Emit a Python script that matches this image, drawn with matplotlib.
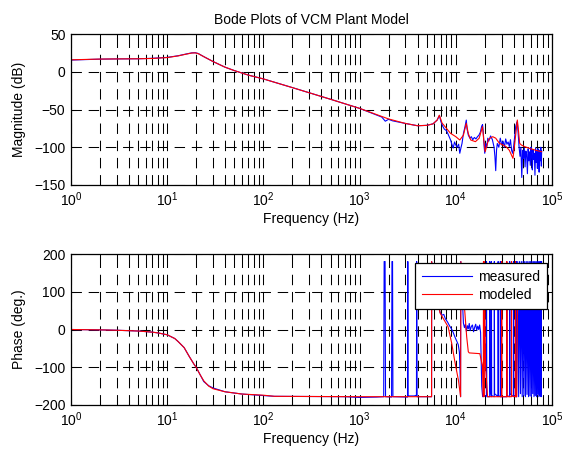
import matplotlib
matplotlib.use("Agg")
import matplotlib.pyplot as plt
from matplotlib.ticker import LogLocator, NullFormatter, FixedLocator

plt.rcParams['font.family'] = ['Liberation Sans', 'DejaVu Sans']
plt.rcParams['font.size'] = 10

title = "Bode Plots of VCM Plant Model"
xlabel = "Frequency (Hz)"
ylabel_mag = "Magnitude (dB)"
ylabel_phase = "Phase (deg.)"
legend_labels = ["measured", "modeled"]
mag_yticks = [50, 0, -50, -100, -150]
phase_yticks = [200, 100, 0, -100, -200]

# ---- modeled magnitude (red) ----
freq_mod_mag = [1, 2, 3, 5, 7, 10, 13, 16, 18, 19.6, 21, 24, 30, 40, 50, 70, 100, 200, 500,
                1000, 2000, 3000, 4000, 5000, 5800, 6400, 6750, 7200, 8000, 8800, 10000,
                11000, 12000, 12850, 13500, 14300, 16000, 17500, 18960, 19500, 20200,
                22000, 24200, 26000, 28400, 31000, 33300, 36000, 39300, 41000, 43600,
                45000, 46100, 48000, 52000, 60000, 70000, 78000]
mag_mod = [15.8, 16.8, 17.0, 17.2, 17.6, 18.8, 21.0, 23.5, 24.8, 25.0, 24.0, 20.0, 13.5,
           6.0, 1.5, -4.5, -9.5, -21.0, -36.5, -48.5, -62.5, -68.5, -71.5, -71.0, -69.0,
           -64.0, -57.5, -68.0, -75.0, -81.5, -86.0, -90.4, -84.0, -68.3, -82.0, -90.4,
           -92.6, -88.0, -72.7, -90.0, -105.8, -89.0, -86.0, -88.0, -94.8, -97.0, -99.2,
           -104.0, -114.7, -95.0, -63.9, -80.0, -94.8, -97.0, -99.2, -102.0, -104.5, -105.9]

# ---- measured magnitude (blue) ----
freq_meas_mag = [1, 2, 3, 5, 7, 10, 13, 16, 18, 19.6, 21, 24, 30, 40, 50, 70, 100, 200, 500,
                 1000, 1700, 1850, 2000, 2200, 3000, 4000, 5000, 5800, 6400, 6750, 7000,
                 7300, 7600, 8000, 8400, 8800, 9100, 9400, 9700, 10000, 10300, 10700, 11000,
                 11300, 11600, 12000, 12500, 12850, 13100, 13500, 14000, 14500, 15000,
                 15600, 16200, 16800, 17400, 18000, 18600, 18960, 19300, 19700, 20000,
                 20500, 21000, 21500, 22000, 23000, 24000, 25000, 25500, 26000, 26500,
                 27000, 28000, 29000, 30000, 31000, 32000, 33000, 34000, 35000, 36000,
                 37000, 38000, 39000, 40000, 41000, 42000, 43000, 43600, 44500, 45500,
                 46500, 47500, 48500, 49500, 50500, 51500, 52500, 53500, 54500, 55500,
                 56500, 57500, 58500, 59500, 60500, 61500, 62500, 63500, 64500, 65500,
                 66500, 67500, 68500, 69500, 70500, 71500, 72500, 73500, 74500, 75500,
                 76500, 77500, 78000]
mag_meas = [15.5, 16.7, 17.0, 17.2, 17.8, 19.0, 21.2, 23.7, 25.0, 25.2, 24.2, 20.0, 13.5,
            6.0, 1.5, -4.5, -9.5, -21.0, -36.5, -48.5, -60.0, -65.5, -63.0, -65.0, -68.5,
            -71.5, -71.0, -69.0, -64.0, -58.0, -66.0, -72.0, -76.0, -78.0, -84.0, -90.0,
            -96.0, -101.0, -93.0, -97.0, -100.0, -96.0, -108.0, -101.0, -95.0, -82.0, -72.0,
            -64.0, -76.0, -84.0, -88.0, -86.0, -90.0, -87.0, -89.0, -86.0, -84.0, -80.0,
            -72.0, -70.0, -80.0, -99.0, -108.0, -95.0, -100.0, -88.0, -92.0, -85.0, -90.0,
            -100.0, -112.0, -131.0, -104.0, -95.0, -100.0, -88.0, -97.0, -92.0, -100.0,
            -89.0, -96.0, -93.0, -99.0, -90.0, -104.0, -108.0, -98.0, -85.0, -72.0, -68.0,
            -66.0, -82.0, -100.0, -112.0, -100.0, -140.0, -104.0, -115.0, -101.0, -126.0,
            -105.0, -110.0, -135.0, -102.0, -118.0, -106.0, -124.0, -100.0, -113.0, -130.0,
            -103.0, -116.0, -108.0, -137.0, -101.0, -120.0, -106.0, -128.0, -102.0, -115.0,
            -133.0, -104.0, -118.0, -100.0, -125.0, -105.0]

# ---- modeled phase (red) ----
freq_mod_ph = [1, 2, 3, 5, 7, 8, 10, 12, 13, 15, 17, 19, 20, 22, 24, 27, 30, 40, 60, 100,
               130, 1000, 5600, 5610, 6200, 6855, 8318, 9057, 9772, 10640,
               11220, 11300, 12300, 12970, 13490, 13800, 17780, 19050, 19320, 19400,
               19600, 19800, 20400, 21400, 29900, 30000, 30100, 33800, 33900, 34000,
               37900, 38000, 38100, 41600, 41700, 41800, 43000, 44000, 60000, 78000]
phase_mod = [0, -1, -2, -4, -7, -9, -14, -24, -32, -48, -72, -92, -100, -120, -136, -150,
             -157, -165, -171, -174,
             -177, -178, -178, 180, 110, 44, 7, -36, -85, -134,
             -178, 180, 60, -19, -59, -62, -64, -100, -178, 180,
             -178, 180, -100, -178, -178, 180, -178, -178, 180, -178,
             -178, 180, -176, -178, 180, -178, -178, 150, 150, 150]

# ---- measured phase (blue) ----
freq_meas_ph = [1, 2, 3, 5, 7, 8, 10, 12, 13, 15, 17, 19, 20, 22, 24, 27, 30, 40, 60, 100,
                130, 700, 1000, 1500, 1780, 1800, 1840, 1860, 2150, 2170, 2200, 2220, 3150,
                3170, 3190, 3700, 3900, 3920, 3960, 5600, 5610,
                6700, 6900, 7200, 7500, 7800, 8200, 8600, 9000, 9400, 9800, 10200, 10600,
                10900, 11100, 11200, 11250, 11800, 12000, 12300, 12600, 12900, 13200,
                13500, 13800, 14100, 14500, 14900, 15300, 15700, 16100, 16500, 16900,
                17300, 17700, 18100, 18600, 19000, 20800, 20850, 21000, 22500, 22550,
                22700, 23400, 23450, 23600, 25100, 25150, 25300, 27500, 27550, 27700,
                29000, 29050, 29200, 33800, 33850, 34000, 36300, 36350, 36500, 39800,
                39850, 40000, 42600, 42650, 42800, 44000,
                45000, 46000, 47000, 48000, 49000, 50000, 51000, 52000, 53000, 54000,
                55000, 56000, 57000, 58000, 59000, 60000, 61000, 62000, 63000, 64000,
                65000, 66000, 67000, 68000, 69000, 70000, 71000, 72000, 73000, 74000,
                75000, 76000, 77000, 78000]
phase_meas = [0, -1, -2, -4, -7, -9, -14, -24, -32, -48, -72, -92, -100, -120, -138, -149,
              -155, -165, -171, -175,
              -177, -178, -180, -179, -178, 180, 180, -178, -179, 180, 180, -178, -179,
              180, -176, -176, -174, 180, -178, -178, 180,
              55, 44, 38, 40, 28, 20, 10, 2, -8, -20, -30, -40,
              -60, -120, -178, 180, 60, 17, 5, 14, -5, 10,
              2, 16, -3, 8, 12, -6, 6, 14, -2, 9,
              0, 12, -8, -150, -178, -175, 180, -178, -178, 180,
              -160, -178, 180, -175, -178, 180, -170, -178, 180, -175,
              -178, 180, -178, -178, 180, -175, -178, 180, -170, -178,
              180, -175, -178, 180, -178, 180,
              -178, 180, -170, 180, -178, 180, -175, 180, -178, 180,
              -172, 180, -178, 180, -176, 180, -178, 180, -170, 180,
              -178, 180, -175, 180, -178, 180, -172, 180, -178, 180,
              -176, 180, -178, 180]

fig = plt.figure(figsize=(5.66, 4.5), dpi=100)
W, H = 566.0, 450.0
ax1 = fig.add_axes([71 / W, 1 - 185 / H, 481 / W, 151 / H])
ax2 = fig.add_axes([71 / W, 1 - 405 / H, 481 / W, 151 / H])

grid_kw = dict(color='black', linewidth=0.75, linestyle=(0, (10, 6.5)))

for ax in (ax1, ax2):
    ax.set_xscale('log')
    ax.set_xlim(1, 1e5)
    ax.set_axisbelow(True)
    ax.xaxis.set_major_locator(LogLocator(base=10, numticks=10))
    ax.xaxis.set_minor_locator(LogLocator(base=10, subs=range(2, 10), numticks=20))
    ax.xaxis.set_minor_formatter(NullFormatter())
    ax.grid(True, which='both', axis='x', **grid_kw)
    ax.grid(True, which='major', axis='y', **grid_kw)
    ax.tick_params(which='both', direction='in', top=True, right=True, length=3.5,
                   width=0.75, labelsize=10, pad=4)
    for s in ax.spines.values():
        s.set_linewidth(0.9)
    ax.set_xlabel(xlabel, fontsize=10, labelpad=2)

ax1.plot(freq_meas_mag, mag_meas, color=(0, 0, 1), linewidth=0.8)
ax1.plot(freq_mod_mag, mag_mod, color=(1, 0, 0), linewidth=0.8)
ax1.set_ylim(-150, 50)
ax1.yaxis.set_major_locator(FixedLocator(mag_yticks))
ax1.set_ylabel(ylabel_mag, fontsize=10, labelpad=6)
ax1.set_title(title, fontsize=10, pad=7.5)

l1, = ax2.plot(freq_meas_ph, phase_meas, color=(0, 0, 1), linewidth=0.8)
l2, = ax2.plot(freq_mod_ph, phase_mod, color=(1, 0, 0), linewidth=0.8)
ax2.set_ylim(-200, 200)
ax2.yaxis.set_major_locator(FixedLocator(phase_yticks))
ax2.set_ylabel(ylabel_phase, fontsize=10, labelpad=6)

leg = ax2.legend([l1, l2], legend_labels, loc='upper right',
                 bbox_to_anchor=((547 - 71) / 481, (405 - 263) / 151),
                 borderaxespad=0, fancybox=False, framealpha=1, edgecolor='black',
                 handlelength=3.6, handletextpad=0.45, fontsize=10,
                 labelspacing=0.3, borderpad=0.5)
leg.get_frame().set_linewidth(0.9)

fig.savefig("out.png", dpi=100)
